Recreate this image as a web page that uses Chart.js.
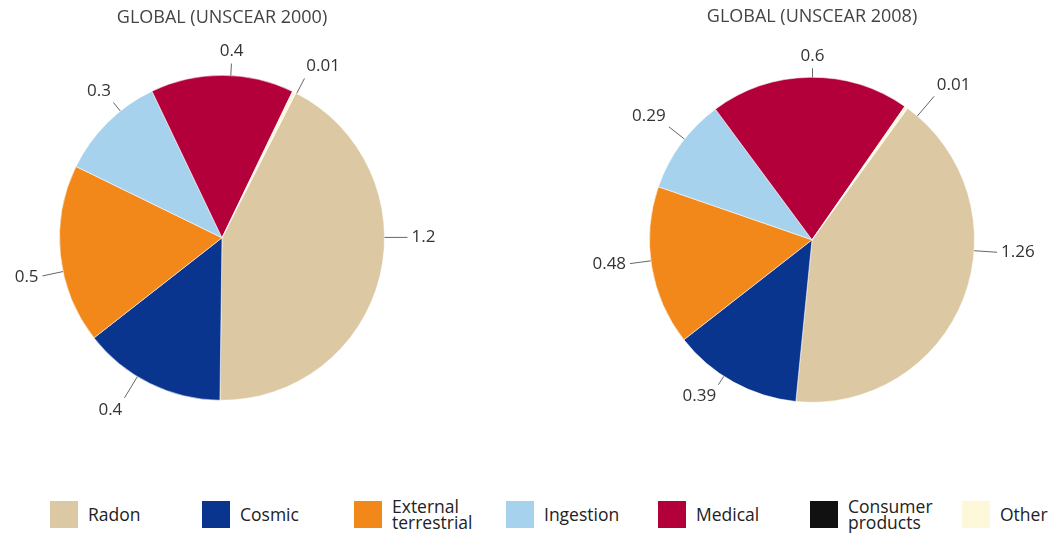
<!DOCTYPE html>
<html>
<head>
<meta charset="utf-8">
<script src="https://cdn.jsdelivr.net/npm/chart.js@4.4.1/dist/chart.umd.min.js"></script>
<style>
  body { margin: 0; background: #fff; width: 1060px; height: 533px; overflow: hidden; position: relative; font-family: "Open Sans", sans-serif; }
  .pie { position: absolute; top: 0; }
  #pie2000 { left: 0; }
  #pie2008 { left: 560px; }
  #legend { position: absolute; left: 50px; top: 498px; display: flex; }
  .item { width: 152px; display: flex; align-items: center; height: 32px; }
  .swatch { width: 28px; height: 27px; flex: none; }
  .label { margin-left: 10px; font-size: 17.5px; line-height: 16px; color: #222; }
</style>
</head>
<body>
<canvas id="pie2000" class="pie" width="470" height="420"></canvas>
<canvas id="pie2008" class="pie" width="500" height="420"></canvas>
<div id="legend"></div>
<script>
// annual effective dose by source, mSv
const categories = [['Radon'], ['Cosmic'], ['External', 'terrestrial'], ['Ingestion'], ['Medical'], ['Consumer', 'products'], ['Other']];
const dose2000 = [1.2, 0.4, 0.5, 0.3, 0.4, 0, 0.01];
const dose2008 = [1.26, 0.39, 0.48, 0.29, 0.6, 0, 0.01];
const colors = ['#dcc9a4', '#0a358f', '#f2871a', '#a6d2ee', '#b3003b', '#111111', '#fdf8da'];

// leader lines + value text outside each slice
const sliceLabels = {
  id: 'sliceLabels',
  afterDraw(chart, args, opts) {
    const ctx = chart.ctx;
    const values = chart.data.datasets[0].data;
    ctx.save();
    ctx.font = '17px "Open Sans", sans-serif';
    ctx.fillStyle = '#333';
    ctx.strokeStyle = '#666';
    ctx.lineWidth = 1;
    chart.getDatasetMeta(0).data.forEach((arc, i) => {
      if (!values[i]) return;
      const p = arc.getProps(['x', 'y', 'startAngle', 'endAngle', 'outerRadius'], true);
      const a = (p.startAngle + p.endAngle) / 2 + (opts.shift[i] || 0) * Math.PI / 180;
      const dx = Math.cos(a), dy = Math.sin(a);
      const r0 = p.outerRadius, r1 = r0 + opts.len[i];
      ctx.beginPath();
      ctx.moveTo(p.x + dx * r0, p.y + dy * r0);
      ctx.lineTo(p.x + dx * r1, p.y + dy * r1);
      ctx.stroke();
      const tx = p.x + dx * (r1 + 4), ty = p.y + dy * (r1 + 4);
      ctx.textAlign = dx > 0.35 ? 'left' : dx < -0.35 ? 'right' : 'center';
      ctx.textBaseline = dy < -0.35 ? 'bottom' : dy > 0.35 ? 'top' : 'middle';
      ctx.fillText(String(values[i]), tx, ty);
    });
    ctx.restore();
  }
};

function makePie(id, title, values, rotation, padding, titlePad, labelOpts) {
  return new Chart(document.getElementById(id), {
    type: 'pie',
    data: {
      labels: categories.map(c => c.join(' ')),
      datasets: [{
        data: values,
        backgroundColor: colors,
        borderColor: 'rgba(255,255,255,0.55)',
        borderWidth: 1
      }]
    },
    options: {
      responsive: false,
      animation: false,
      rotation: rotation,
      layout: { padding: padding },
      plugins: {
        legend: { display: false },
        tooltip: { enabled: false },
        title: {
          display: true,
          text: title,
          color: '#444',
          font: { family: '"Open Sans", sans-serif', size: 18, weight: 'normal', lineHeight: 1.2 },
          padding: titlePad
        },
        sliceLabels: labelOpts
      }
    },
    plugins: [sliceLabels]
  });
}

// title box = 18*1.2 + padding, so the chart area starts just under it
makePie('pie2000', 'GLOBAL (UNSCEAR 2000)', dose2000, 27,
  { left: 59, right: 85, top: 0, bottom: 19 }, { top: 7, bottom: 46 },
  { shift: [-14, 5, -6, 6, 3, 0, 1], len: [23, 25, 21, 11, 12, 0, 17] });

makePie('pie2008', 'GLOBAL (UNSCEAR 2008)', dose2008, 36,
  { left: 89, right: 85, top: 0, bottom: 17 }, { top: 6, bottom: 49 },
  { shift: [-17, 4, 2, 2, 1, 0, 5], len: [23, 10, 21, 20, 9, 0, 26] });

// shared legend
const legend = document.getElementById('legend');
categories.forEach((lines, i) => {
  const item = document.createElement('div');
  item.className = 'item';
  item.innerHTML = '<div class="swatch" style="background:' + colors[i] + '"></div>' +
    '<div class="label">' + lines.join('<br>') + '</div>';
  legend.appendChild(item);
});
</script>
</body>
</html>
